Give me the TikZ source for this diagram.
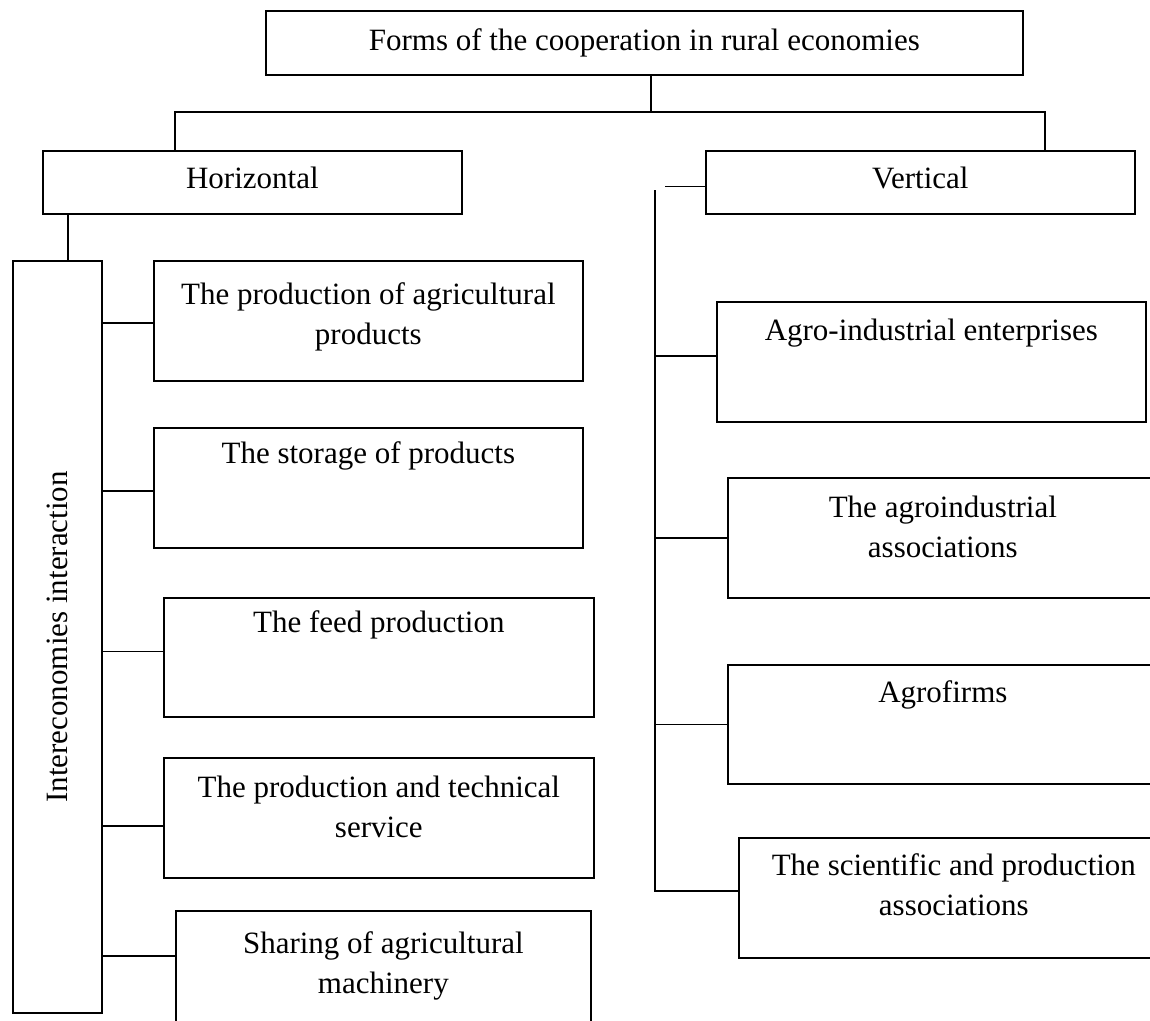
\documentclass[tikz,border=0pt]{standalone}
\usepackage{fontspec}
\setmainfont{Liberation Serif}
\begin{document}
\begin{tikzpicture}[x=1pt,y=-1pt,
  box/.style={draw, line width=1.7pt, rectangle, inner sep=0pt, minimum height=120pt, minimum width=430pt, anchor=north west},
  txt/.style={align=center, font=\fontsize{31}{40}\selectfont, inner sep=0pt, anchor=base},
  ln/.style={line width=1.7pt}]
\useasboundingbox (0,0) rectangle (1150,1020);
\clip (0,0) rectangle (1150,1020);
% top level
\node[box, minimum width=757pt, minimum height=64pt] (top) at (265,10) {};
\node[txt] (ttop) at ([yshift=-40pt]top.north) {Forms of the cooperation in rural economies};
\node[box, minimum width=419pt, minimum height=63pt] (hor) at (42,150) {};
\node[txt] (thor) at ([yshift=-38pt]hor.north) {Horizontal};
\node[box, minimum width=429pt, minimum height=63pt] (ver) at (705,150) {};
\node[txt] (tver) at ([yshift=-38pt]ver.north) {Vertical};
% left column
\node[box, minimum width=89pt, minimum height=752pt] (tall) at (12,260) {};
\node[txt, rotate=90, anchor=center] (ttall) at (tall.center) {Intereconomies interaction};
\node[box, minimum width=429pt] (l1) at (153,260) {};
\node[txt] (tl1) at ([yshift=-84pt]l1.north) {The production of agricultural\\products};
\node[box, minimum width=429pt] (l2) at (153,427) {};
\node[txt] (tl2) at ([yshift=-36pt]l2.north) {The storage of products};
\node[box, minimum width=430pt, minimum height=119pt] (l3) at (163,597) {};
\node[txt] (tl3) at ([yshift=-35pt]l3.north) {The feed production};
\node[box, minimum width=430pt] (l4) at (163,757) {};
\node[txt] (tl4) at ([yshift=-80pt]l4.north) {The production and technical\\service};
\node[box, minimum width=415pt] (l5) at (175,910) {};
\node[txt] (tl5) at ([yshift=-83pt]l5.north) {Sharing of agricultural\\machinery};
% right column
\node[box, minimum width=429pt] (r1) at (716,301) {};
\node[txt] (tr1) at ([yshift=-39pt]r1.north) {Agro-industrial enterprises};
\node[box] (r2) at (727,477) {};
\node[txt] (tr2) at ([yshift=-80pt]r2.north) {The agroindustrial\\associations};
\node[box, minimum height=119pt] (r3) at (727,664) {};
\node[txt] (tr3) at ([yshift=-38pt]r3.north) {Agrofirms};
\node[box] (r4) at (738,837) {};
\node[txt] (tr4) at ([yshift=-78pt]r4.north) {The scientific and production\\associations};
% tree connectors
\draw[ln] ([xshift=6.5pt]top.south) -- ++(0,36) coordinate (j);
\draw[ln] ([xshift=133pt]hor.north west) |- (j) -| ([xshift=-91pt]ver.north east);
\draw[ln] ([xshift=26pt]hor.south west) -- ([xshift=56pt]tall.north west);
% left connectors
\draw[ln] ([yshift=-2pt]l1.west -| tall.east) -- ([yshift=-2pt]l1.west);
\draw[ln] ([yshift=-3pt]l2.west -| tall.east) -- ([yshift=-3pt]l2.west);
\draw[ln] ([yshift=6pt]l3.west -| tall.east) -- ([yshift=6pt]l3.west);
\draw[ln] ([yshift=-8pt]l4.west -| tall.east) -- ([yshift=-8pt]l4.west);
\draw[ln] ([yshift=15pt]l5.west -| tall.east) -- ([yshift=15pt]l5.west);
% right spine
\draw[ln] ([xshift=-40pt,yshift=-4pt]ver.west) -- ([yshift=-4pt]ver.west);
\coordinate (sp) at ([xshift=-50pt,yshift=-8pt]ver.west);
\draw[ln] (sp) |- ([yshift=7pt]r4.west);
\draw[ln] ([yshift=6pt]r1.west -| sp) -- ([yshift=6pt]r1.west);
\draw[ln] (r2.west -| sp) -- (r2.west);
\draw[ln] (r3.west -| sp) -- (r3.west);
\end{tikzpicture}
\end{document}
